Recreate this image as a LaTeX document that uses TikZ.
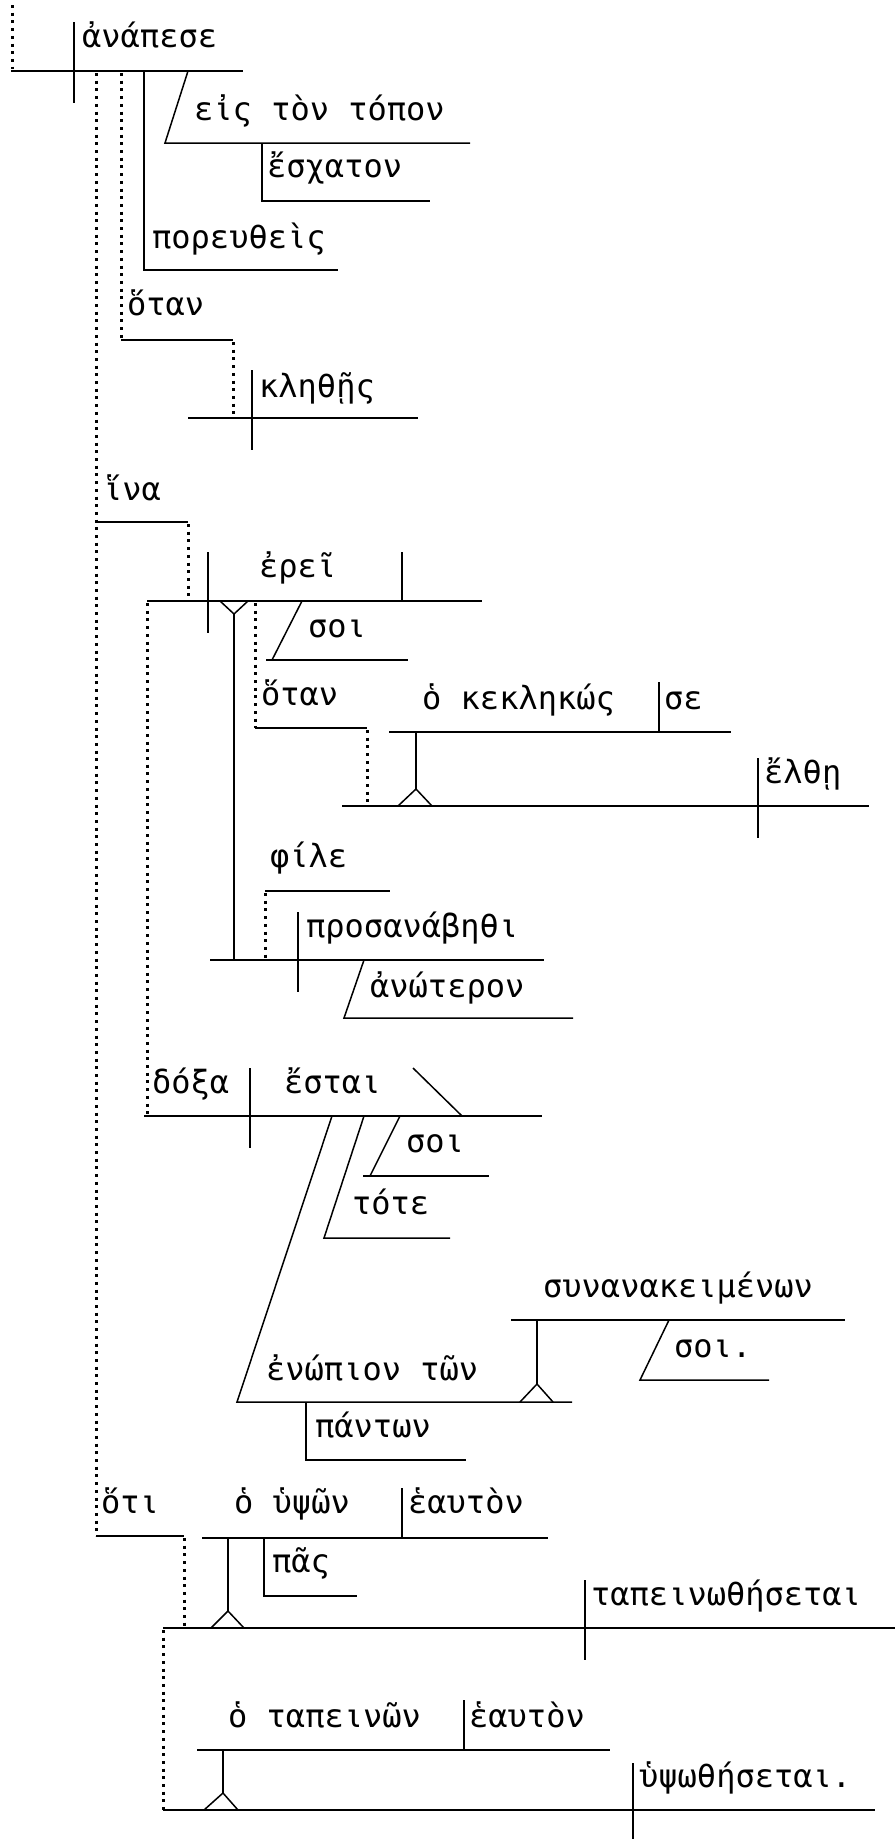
\documentclass[tikz,border=0pt]{standalone}
\usepackage{fontspec}
\newfontfamily\gk{DejaVu Sans Mono}
\begin{document}
\begin{tikzpicture}[x=1pt,y=-1pt,
  ln/.style={line width=1.5pt},
  dt/.style={line width=3pt,dash pattern=on 3pt off 4.7pt},
  wd/.style={anchor=base west,inner sep=0pt,font=\gk\fontsize{32}{38}\selectfont}]
\useasboundingbox (0,0) rectangle (895,1839);
\fill[white] (0,0) rectangle (895,1839);
% top clause
\draw[dt] (12,5)--(12,69);
\draw[ln] (11,71)--(243,71);
\draw[ln] (74,22)--(74,103);
\node[wd] (w1) at (82,47) {ἀνάπεσε};
\draw[ln] (188,71)--(165,143)--(470,143);
\node[wd] (w2) at (194,120) {εἰς τὸν τόπον};
\draw[ln] (262,143)--(262,201)--(430,201);
\node[wd] (w3) at (267,177) {ἔσχατον};
\draw[ln] (144,71)--(144,270)--(338,270);
\node[wd] (w4) at (152,248) {πορευθεὶς};
\draw[dt] (121,73)--(121,340);
\draw[ln] (121,340)--(233,340);
\draw[dt] (233,342)--(233,416);
\node[wd] (w5) at (127,315) {ὅταν};
\draw[ln] (188,418)--(418,418);
\draw[ln] (252,370)--(252,450);
\node[wd] (w6) at (259,397) {κληθῇς};
\draw[dt] (96,73)--(96,1536);
% hina clause
\node[wd] (w7) at (103,500) {ἵνα};
\draw[ln] (96,522)--(188,522);
\draw[dt] (188,524)--(188,599);
\draw[ln] (147,601)--(482,601);
\draw[ln] (208,552)--(208,633);
\draw[ln] (402,552)--(402,601);
\draw[ln] (220,601)--(234,614)--(248,601);
\draw[ln] (234,614)--(234,960);
\node[wd] (w8) at (259,577) {ἐρεῖ};
\draw[dt] (147,603)--(147,1116);
\draw[dt] (255,603)--(255,728);
\draw[ln] (255,728)--(367,728);
\draw[dt] (367,730)--(367,804);
\draw[ln] (302,601)--(272,660);
\draw[ln] (266,660)--(408,660);
\node[wd] (w9) at (308,637) {σοι};
\node[wd] (w10) at (261,705) {ὅταν};
\draw[ln] (389,732)--(731,732);
\draw[ln] (659,682)--(659,732);
\node[wd] (w11) at (422,709) {ὁ κεκληκώς};
\node[wd] (w12) at (664,709) {σε};
\draw[ln] (416,732)--(416,789);
\draw[ln] (398,806)--(416,789)--(432,806);
\draw[ln] (342,806)--(869,806);
\draw[ln] (758,758)--(758,838);
\node[wd] (w13) at (764,783) {ἔλθῃ};
\node[wd] (w14) at (270,867) {φίλε};
\draw[ln] (265,891)--(390,891);
\draw[dt] (265,893)--(265,958);
\draw[ln] (210,960)--(544,960);
\draw[ln] (298,912)--(298,992);
\node[wd] (w15) at (306,937) {προσανάβηθι};
\draw[ln] (364,960)--(344,1018)--(573,1018);
\node[wd] (w16) at (370,997) {ἀνώτερον};
% doxa clause
\draw[ln] (144,1116)--(542,1116);
\draw[ln] (250,1068)--(250,1148);
\node[wd] (w17) at (152,1093) {δόξα};
\node[wd] (w18) at (284,1093) {ἔσται};
\draw[ln] (413,1068)--(462,1116);
\draw[ln] (400,1116)--(370,1176);
\draw[ln] (363,1176)--(489,1176);
\node[wd] (w19) at (406,1152) {σοι};
\draw[ln] (364,1116)--(324,1238)--(450,1238);
\node[wd] (w20) at (352,1214) {τότε};
\draw[ln] (332,1116)--(237,1402)--(572,1402);
\node[wd] (w21) at (266,1380) {ἐνώπιον τῶν};
\draw[ln] (306,1402)--(306,1460)--(466,1460);
\node[wd] (w22) at (315,1437) {πάντων};
\draw[ln] (520,1402)--(537,1384)--(553,1402);
\draw[ln] (537,1384)--(537,1320);
\draw[ln] (511,1320)--(845,1320);
\node[wd] (w23) at (543,1297) {συνανακειμένων};
\draw[ln] (669,1320)--(640,1380)--(769,1380);
\node[wd] (w24) at (674,1357) {σοι.};
% hoti clause
\node[wd] (w25) at (101,1513) {ὅτι};
\draw[ln] (96,1536)--(184,1536);
\draw[dt] (184,1538)--(184,1626);
\draw[ln] (202,1538)--(548,1538);
\draw[ln] (402,1488)--(402,1538);
\node[wd] (w26) at (234,1513) {ὁ ὑψῶν};
\node[wd] (w27) at (408,1513) {ἑαυτὸν};
\draw[ln] (264,1538)--(264,1596)--(357,1596);
\node[wd] (w28) at (272,1572) {πᾶς};
\draw[ln] (228,1538)--(228,1611);
\draw[ln] (211,1628)--(228,1611)--(244,1628);
\draw[ln] (163,1628)--(895,1628);
\draw[ln] (585,1580)--(585,1660);
\node[wd] (w29) at (591,1605) {ταπεινωθήσεται};
\draw[dt] (163,1630)--(163,1810);
\draw[ln] (197,1750)--(610,1750);
\draw[ln] (464,1700)--(464,1750);
\node[wd] (w30) at (228,1727) {ὁ ταπεινῶν};
\node[wd] (w31) at (469,1727) {ἑαυτὸν};
\draw[ln] (223,1750)--(223,1793);
\draw[ln] (204,1810)--(223,1793)--(238,1810);
\draw[ln] (163,1810)--(875,1810);
\draw[ln] (633,1763)--(633,1839);
\node[wd] (w32) at (639,1787) {ὑψωθήσεται.};
\end{tikzpicture}
\end{document}
